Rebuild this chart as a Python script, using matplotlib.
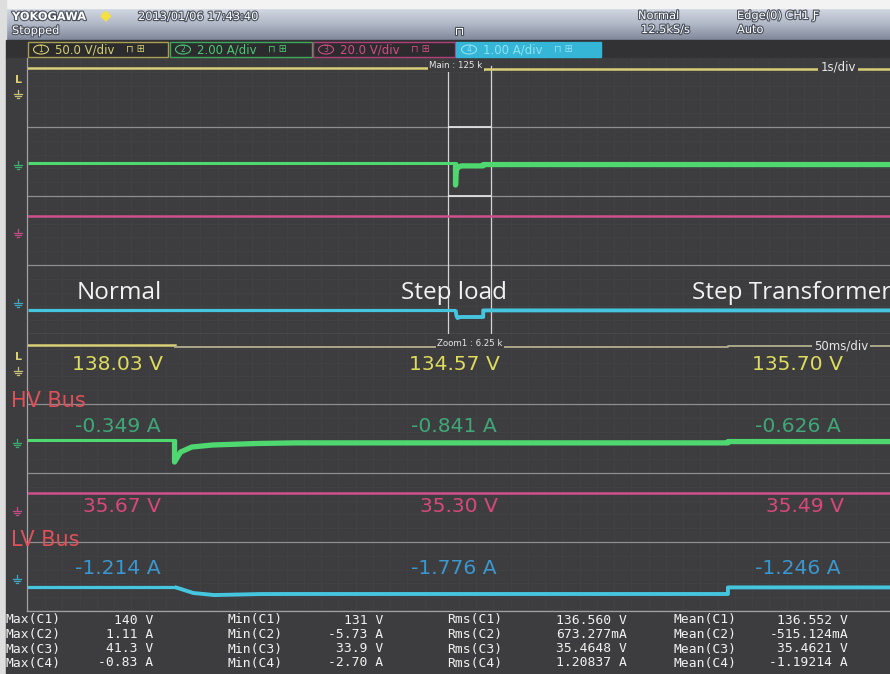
import numpy as np
import matplotlib
matplotlib.use("Agg")
import matplotlib.pyplot as plt
import matplotlib.patheffects as pe
from matplotlib.patches import Rectangle, Ellipse
from matplotlib.colors import to_rgb

W, H, DPI = 890, 674, 100

# ---------------- acquisition data ----------------
STEP_LOAD_T = -0.040      # s, load step on the main timebase
STEP_XFMR_T = 0.281       # s, transformer step
ZOOM_START = -0.125       # s, left edge of the zoom window
ZOOM_SPAN = 0.500         # s (50 ms/div x 10)

phases = ["Normal", "Step load", "Step Transformer"]
ch1_volts = [138.03, 134.57, 135.70]
ch2_amps = [-0.349, -0.841, -0.626]
ch3_volts = [35.67, 35.30, 35.49]
ch4_amps = [-1.214, -1.776, -1.246]

# HV bus current recovery right after the load step (ms after step, A)
ch2_recovery_ms = [0.0, 3.5, 10.0, 22.0, 48.0]
ch2_recovery_a = [-3.98, -2.34, -1.52, -1.19, -0.94]
# LV bus current sag right after the load step (ms after step, A)
ch4_sag_ms = [0.0, 11.0, 23.0, 50.0]
ch4_sag_a = [-1.214, -1.70, -1.86, -1.78]

# measurement table
stat_rows = ["C1", "C2", "C3", "C4"]
max_vals = ["140 V", "1.11 A", "41.3 V", "-0.83 A"]
min_vals = ["131 V", "-5.73 A", "33.9 V", "-2.70 A"]
rms_vals = ["136.560 V", "673.277mA", "35.4648 V", "1.20837 A"]
mean_vals = ["136.552 V", "-515.124mA", "35.4621 V", "-1.19214 A"]

# ---------------- display settings ----------------
BG = "#3d3d3f"
C_YEL, C_GRN, C_MAG, C_CYN = "#d8cf78", "#4fd870", "#d0508e", "#46c6de"
# per-channel vertical position (div) and display gain (units/div)
ch_pos = {"ch1": 2.48, "ch2": 2.511, "ch3": 0.997, "ch4": 0.567}
ch_gain = {"ch1": 100.0, "ch2": 11.3, "ch3": 50.0, "ch4": 5.54}


def to_div(ch, vals):
    return ch_pos[ch] + np.asarray(vals, dtype=float) / ch_gain[ch]


def phase_series(vals, t0=-5.0, t1=5.0):
    t = [t0, STEP_LOAD_T, STEP_LOAD_T, STEP_XFMR_T, STEP_XFMR_T, t1]
    v = [vals[0], vals[0], vals[1], vals[1], vals[2], vals[2]]
    return np.array(t), np.array(v)


def transient_series(vals, rel_ms, rel_vals, settle=0.07, t0=-5.0, t1=5.0):
    t = [t0, STEP_LOAD_T] + [STEP_LOAD_T + m / 1000 for m in rel_ms] + \
        [STEP_LOAD_T + settle, STEP_XFMR_T, STEP_XFMR_T, t1]
    v = [vals[0], vals[0]] + list(rel_vals) + [vals[1], vals[1], vals[2], vals[2]]
    return np.array(t), np.array(v)


fig = plt.figure(figsize=(W / DPI, H / DPI), dpi=DPI)
fig.patch.set_facecolor(BG)


def px_rect(x0, y0, x1, y1):
    return [x0 / W, 1 - y1 / H, (x1 - x0) / W, (y1 - y0) / H]


# ---------------- background layer ----------------
bg = fig.add_axes([0, 0, 1, 1], zorder=0)
stops = [to_rgb("#d3d8e3"), to_rgb("#b0b7c6"), to_rgb("#80889a")]
n = 64
grad = np.zeros((n, 1, 3))
for i in range(n):
    f = i / (n - 1)
    if f < 0.5:
        a, b, g = stops[0], stops[1], f / 0.5
    else:
        a, b, g = stops[1], stops[2], (f - 0.5) / 0.5
    grad[i, 0] = np.array(a) * (1 - g) + np.array(b) * g
bg.imshow(grad, extent=(5, W, 40, 8), aspect="auto", origin="upper", zorder=0)
bg.add_patch(Rectangle((0, 0), W, 8, color="#f3f3f3", zorder=1))
bg.add_patch(Rectangle((0, 0), 6, H, color="#dedede", zorder=1))
bg.add_patch(Rectangle((6, 40), W, 18, color="#323234", zorder=1))
bg.add_patch(Rectangle((6, 58), W, H - 58, color=BG, zorder=1))
bg.plot([27, 27], [58, 611], color="#a2a2a2", lw=0.9, zorder=2)
bg.plot([27, W], [611, 611], color="#a2a2a2", lw=0.9, zorder=2)
bg.set_xlim(0, W)
bg.set_ylim(H, 0)
bg.axis("off")


def make_window(rect, xlim):
    ax = fig.add_axes(px_rect(*rect), zorder=1)
    ax.set_facecolor("none")
    ax.set_xlim(*xlim)
    ax.set_ylim(0, 4)
    for s in ax.spines.values():
        s.set_visible(False)
    ax.set_xticks([])
    ax.set_yticks([])
    x0, x1 = xlim
    for k in range(1, 50):
        ax.axvline(x0 + (x1 - x0) * k / 50, color="#444447", lw=0.5, zorder=0)
    for k in np.arange(0.2, 4.0, 0.2):
        ax.axhline(k, color="#444447", lw=0.5, zorder=0)
    for k in [0, 1, 2, 3]:
        ax.axhline(k, color="#8e8e90", lw=0.9, zorder=1)
    return ax


ax_main = make_window((28, 58, W, 334), (-5, 5))
ax_zoom = make_window((28, 335, W, 611), (0, ZOOM_SPAN * 1000))

# zoom region marker on the main timebase
for xv in (ZOOM_START, ZOOM_START + ZOOM_SPAN):
    ax_main.axvline(xv, ymax=0.97, color="#d4d4d4", lw=0.9, zorder=2)
ax_main.hlines([2, 3], ZOOM_START, ZOOM_START + ZOOM_SPAN, color="#ececec", lw=1.2, zorder=2)


def draw_channels(ax, tx):
    # CH1 (HV bus voltage)
    t, v = phase_series(ch1_volts)
    y = to_div("ch1", v)
    if ax is ax_zoom:
        ax.plot(tx(t[:2]), y[:2], color=C_YEL, lw=1.8, zorder=3)
        ax.plot(tx(t[2:]), y[2:], color="#aaa688", lw=1.4, zorder=3)
    else:
        ax.plot(tx(t), y, color=C_YEL, lw=1.8, zorder=3)
    # CH2 (HV bus current)
    t, v = transient_series(ch2_amps, ch2_recovery_ms, ch2_recovery_a)
    y = to_div("ch2", v)
    pre = t <= STEP_LOAD_T
    ax.plot(tx(t[pre]), y[pre], color=C_GRN, lw=2.2, zorder=3, solid_capstyle="butt")
    post = t >= STEP_LOAD_T
    ax.plot(tx(t[post]), y[post], color=C_GRN, lw=3.8, zorder=3, solid_capstyle="butt")
    # CH3 (LV bus voltage)
    t, v = phase_series(ch3_volts)
    ax.plot(tx(t), to_div("ch3", v), color=C_MAG, lw=1.8, zorder=3)
    # CH4 (LV bus current)
    t, v = transient_series(ch4_amps, ch4_sag_ms, ch4_sag_a)
    y = to_div("ch4", v)
    pre = t <= STEP_LOAD_T
    ax.plot(tx(t[pre]), y[pre], color=C_CYN, lw=2.3, zorder=3, solid_capstyle="butt")
    post = t >= STEP_LOAD_T
    ax.plot(tx(t[post]), y[post], color=C_CYN, lw=2.8, zorder=3, solid_capstyle="butt")


draw_channels(ax_main, lambda t: t)
draw_channels(ax_zoom, lambda t: (t - ZOOM_START) * 1000)

# ---------------- overlay: text and markers ----------------
ov = fig.add_axes([0, 0, 1, 1], zorder=3)
ov.set_xlim(0, W)
ov.set_ylim(H, 0)
ov.axis("off")
ov.patch.set_alpha(0)

hdr = dict(color="white", fontsize=8.2, va="center", ha="left",
           path_effects=[pe.withStroke(linewidth=1.6, foreground="#4a505c")])
ov.text(12, 17, "YOKOGAWA", fontweight="bold", **hdr)
ov.text(106, 16, "\u25c6", color="#f4e040", fontsize=11, ha="center", va="center")
ov.text(138, 17, "2013/01/06 17:43:40", **hdr)
ov.text(12, 31, "Stopped", **hdr)
ov.text(455, 32, "\u2293", **hdr)
ov.text(638, 16, "Normal", **hdr)
ov.text(641, 30, "12.5kS/s", **hdr)
ov.text(737, 16, "Edge(0) CH1 \u0191", **hdr)
ov.text(737, 30, "Auto", **hdr)

# channel setting boxes
boxes = [(28, 168, "1", "50.0 V/div", "#a8a050", "#d8d070", None),
         (170, 312, "2", "2.00 A/div", "#3ca85c", "#4cc874", None),
         (313, 455, "3", "20.0 V/div", "#b04078", "#d04c88", None),
         (456, 601, "4", "1.00 A/div", "#36b6d6", "#8fe2f4", "#36b6d6")]
for x0, x1, num, txt, ec, tc, fc in boxes:
    ov.add_patch(Rectangle((x0, 42), x1 - x0, 15, facecolor=fc if fc else "#2c2c2e",
                           edgecolor=ec, lw=1.0))
    ov.add_patch(Ellipse((x0 + 13, 49.5), 15, 9, fill=False, edgecolor=tc, lw=0.8))
    ov.text(x0 + 13, 49.5, num, color=tc, fontsize=5.5, ha="center", va="center")
    ov.text(x0 + 27, 50, txt, color=tc, fontsize=8.5, ha="left", va="center")
    ov.text(x0 + 98, 50, "\u2293 \u229e", color=tc, fontsize=7, ha="left", va="center")

# window captions
cap = dict(color="#e8e8e8", ha="center", va="center",
           bbox=dict(boxstyle="square,pad=0.15", facecolor=BG, edgecolor="none"))
ov.text(456, 66, "Main : 125 k", fontsize=6.2, **cap)
ov.text(838, 67, "1s/div", fontsize=8.5, **cap)
ov.text(470, 343, "Zoom1 : 6.25 k", fontsize=6.2, **cap)
ov.text(841, 346, "50ms/div", fontsize=8.5, **cap)


# ground / level markers on the left margin
def ground(x, y, c):
    ov.plot([x, x], [y - 5, y - 1.5], color=c, lw=0.9)
    for i, hw in enumerate([4.0, 2.7, 1.4]):
        ov.plot([x - hw, x + hw], [y - 1.5 + i * 2.2] * 2, color=c, lw=0.9)


for y0 in (0, 277):
    ov.text(18, 80 + y0, "L", color="#d8cf78", fontsize=8, fontweight="bold",
            ha="center", va="center")
    ground(18, 95 + y0, "#c8c078")
ground(18, 166, "#3cb070")
ground(18, 234, "#c04c88")
ground(18, 304, "#3fa8c0")
ground(17, 444, "#3cb070")
ground(17, 512, "#c04c88")
ground(17, 580, "#3fa8c0")

# phase captions
for x, name, ha in zip([119, 454, 692], phases, ["center", "center", "left"]):
    ov.text(x, 293, name, color="#f2f2f2", fontsize=17.5, family="Open Sans",
            ha=ha, va="center")

# per-phase readings
val_font = dict(fontsize=14.6, family="DejaVu Sans", ha="center", va="center")
cols = [118, 454, 798]
for x, v in zip(cols, ch1_volts):
    ov.text(x, 364, f"{v:.2f} V", color="#dedc5c", **val_font)
for x, v in zip(cols, ch2_amps):
    ov.text(x, 427, f"{v:.3f} A", color="#3fa878", **val_font)
for x, v in zip([122, 459, 805], ch3_volts):
    ov.text(x, 507, f"{v:.2f} V", color="#d8487a", **val_font)
for x, v in zip(cols, ch4_amps):
    ov.text(x, 569, f"{v:.3f} A", color="#3a98d0", **val_font)
ov.text(11, 401, "HV Bus", color="#e0505a", fontsize=15, ha="left", va="center")
ov.text(11, 540, "LV Bus", color="#e0505a", fontsize=15, ha="left", va="center")

# measurement table
tab = dict(color="#f2f2f2", fontsize=9.4, family="DejaVu Sans Mono", va="center")
row_y = [620, 634.5, 649, 663]
for name, lx, rx, vals in (("Max", 5, 153, max_vals), ("Min", 228, 383, min_vals),
                           ("Rms", 447, 627, rms_vals), ("Mean", 673, 848, mean_vals)):
    for y, ch, v in zip(row_y, stat_rows, vals):
        ov.text(lx, y, f"{name}({ch})", ha="left", **tab)
        ov.text(rx, y, v, ha="right", **tab)

fig.savefig("out.png", dpi=DPI, facecolor=fig.get_facecolor())
